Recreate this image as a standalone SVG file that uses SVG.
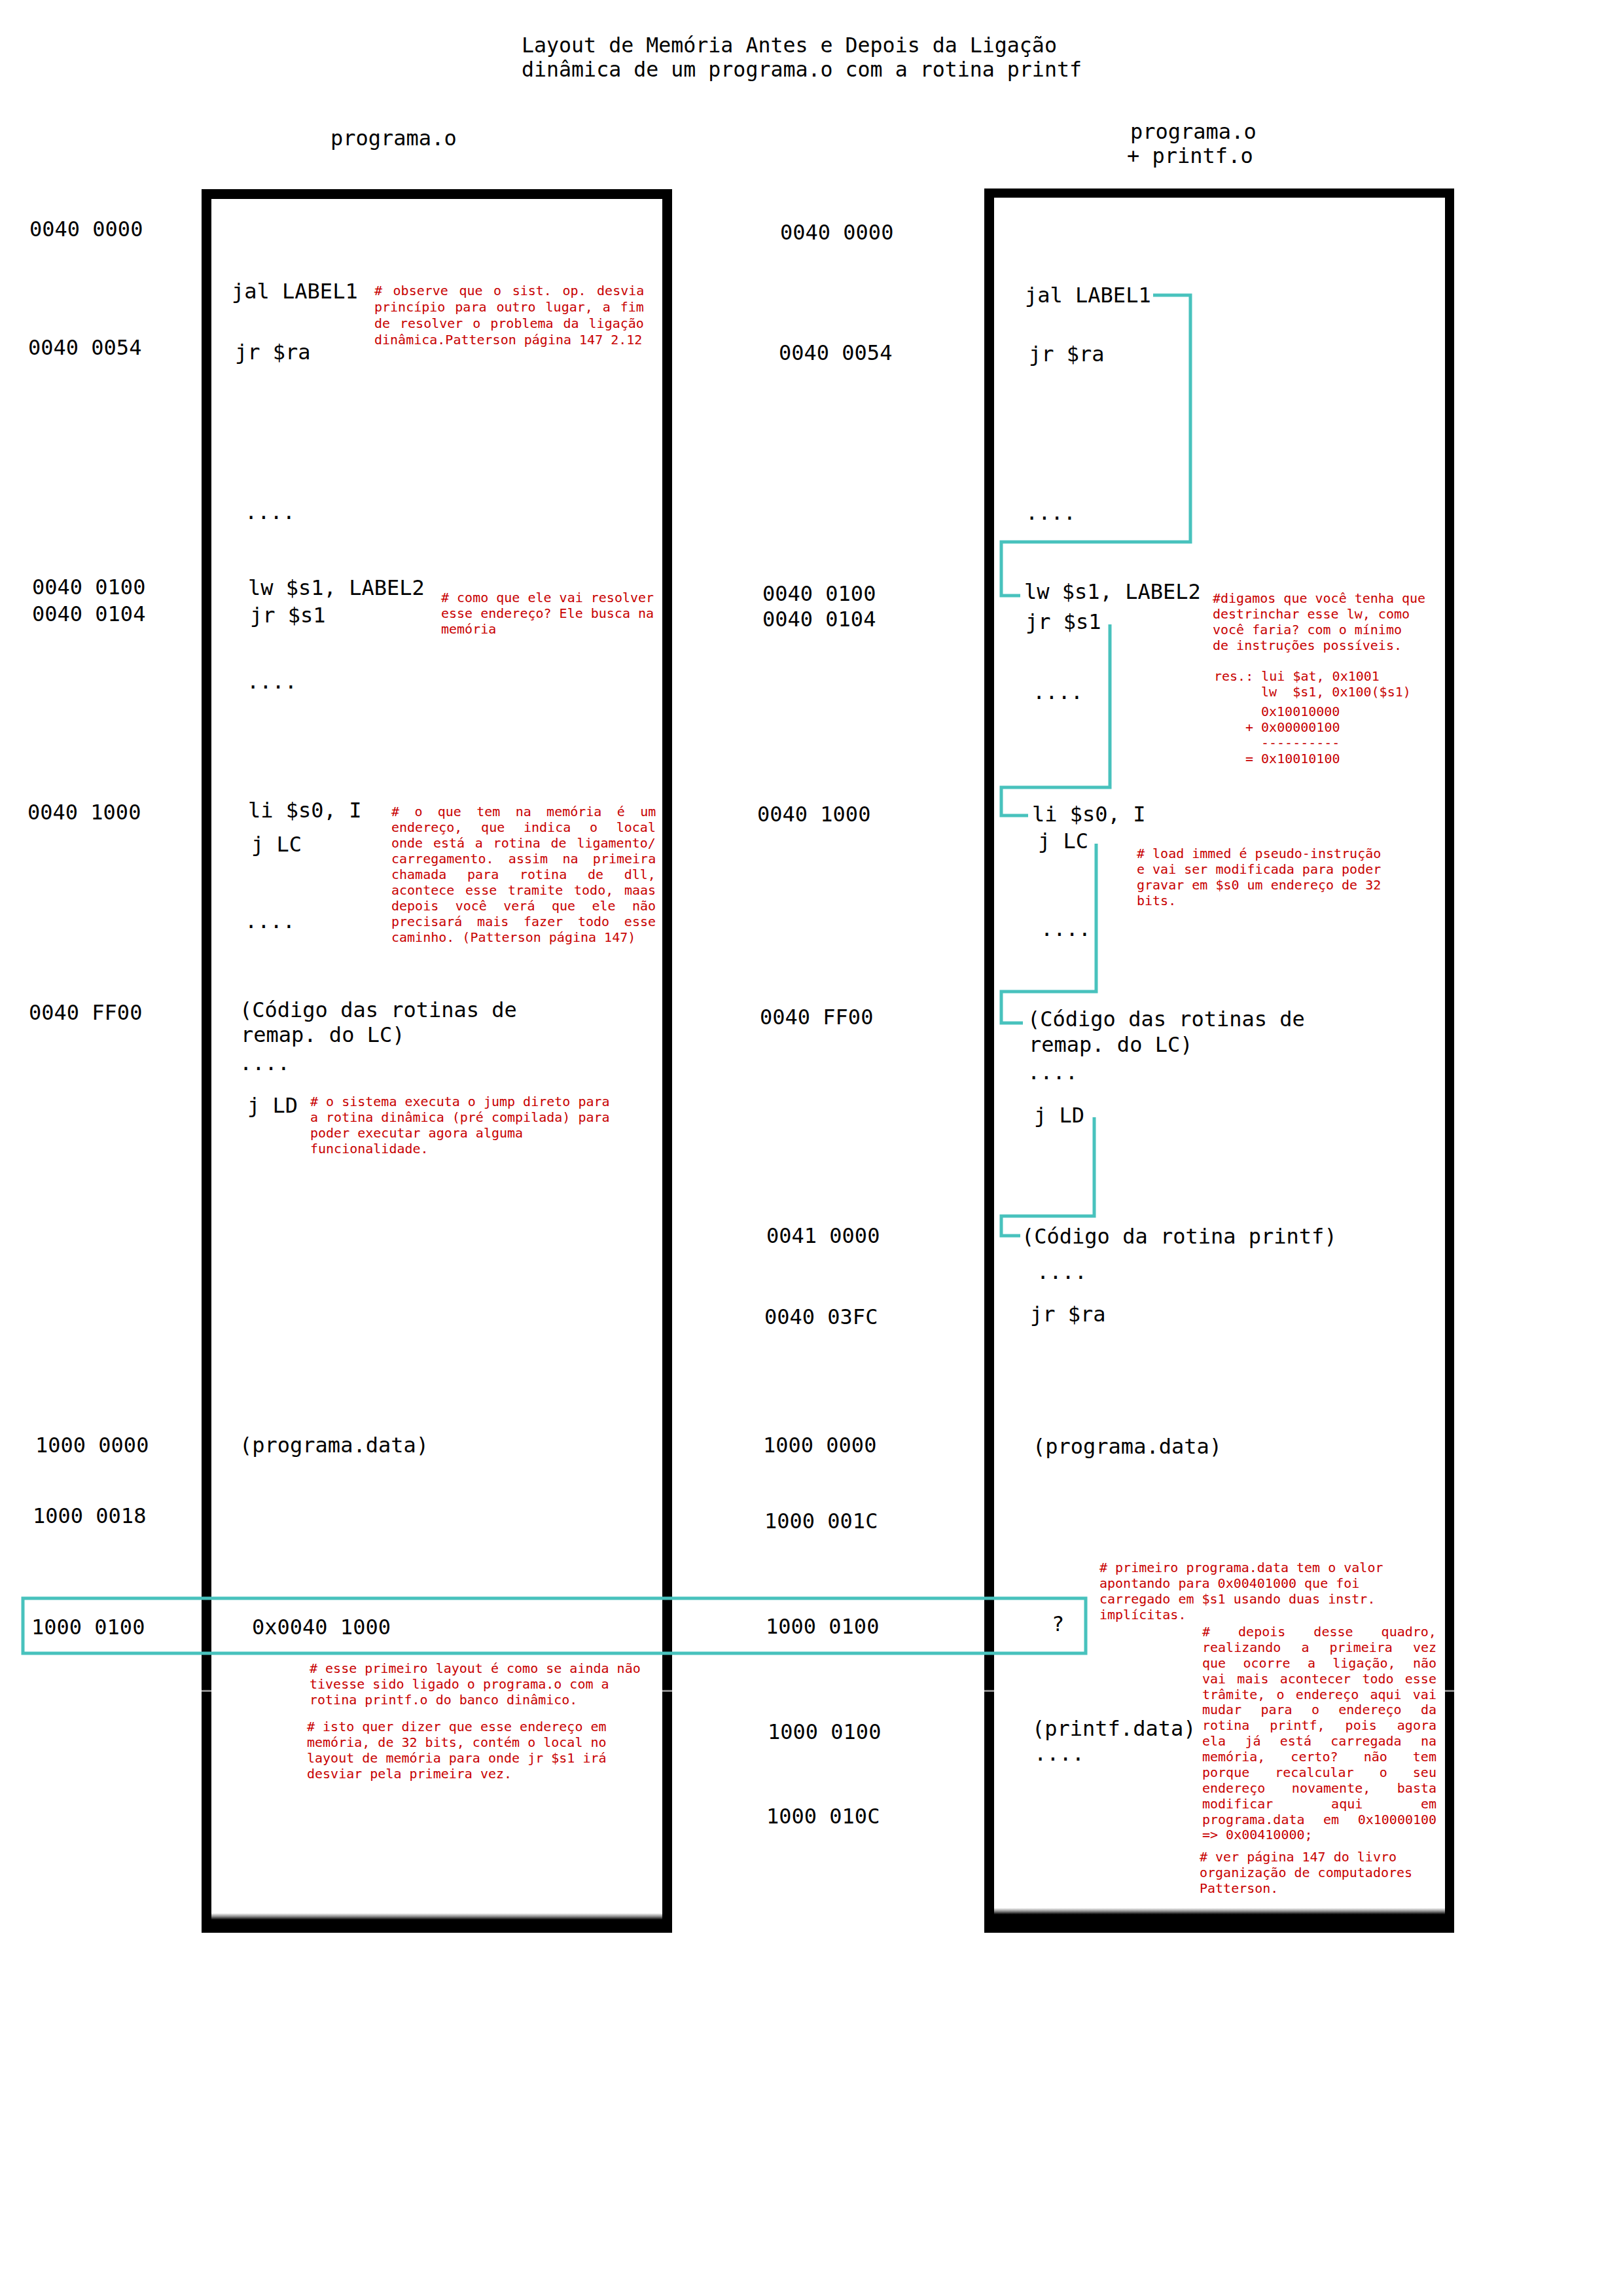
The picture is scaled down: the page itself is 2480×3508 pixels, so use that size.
<svg xmlns="http://www.w3.org/2000/svg" width="2480" height="3508" viewBox="0 0 2480 3508">
<style>
.t{font-family:"DejaVu Sans Mono","Liberation Mono",monospace;font-size:32px;fill:#000}
.h{font-family:"DejaVu Sans Mono","Liberation Mono",monospace;font-size:31.6px;fill:#000}
.r{font-family:"DejaVu Sans Mono","Liberation Mono",monospace;font-size:20px;fill:#c80000}
.con{fill:none;stroke:#48c2bd;stroke-width:5;stroke-linejoin:miter;stroke-linecap:butt}
.mark{fill:#8a8a8a}
</style>
<defs>
<linearGradient id="shade" x1="0" y1="0" x2="0" y2="1">
<stop offset="0" stop-color="#ffffff"/>
<stop offset="0.5" stop-color="#909090"/>
<stop offset="1" stop-color="#000000"/>
</linearGradient>
</defs>
<rect width="2480" height="3508" fill="#ffffff"/>

<g id="title">
<text class="h" x="797" y="80">Layout de Memória Antes e Depois da Ligação</text>
<text class="h" x="797" y="117">dinâmica de um programa.o com a rotina printf</text>
</g>

<g id="left-box">
<rect x="308" y="289" width="719" height="2664" fill="#000"/>
<rect x="323" y="304" width="689" height="2629" fill="#fff"/>
<rect x="323" y="2923" width="689" height="10" fill="url(#shade)"/>
<rect class="mark" x="308" y="2582" width="15" height="3"/>
<rect class="mark" x="1012" y="2582" width="15" height="3"/>
</g>

<g id="right-box">
<rect x="1504" y="288" width="718" height="2665" fill="#000"/>
<rect x="1519" y="302" width="689" height="2623" fill="#fff"/>
<rect x="1519" y="2915" width="689" height="10" fill="url(#shade)"/>
<rect class="mark" x="1504" y="2582" width="15" height="3"/>
<rect class="mark" x="2208" y="2582" width="14" height="3"/>
</g>

<g id="headers">
<text class="t" x="505" y="222">programa.o</text>
<text class="t" x="1727" y="212">programa.o</text>
<text class="t" x="1722" y="249">+ printf.o</text>
</g>

<g id="left-addresses">
<text class="t" x="45" y="361">0040 0000</text>
<text class="t" x="43" y="542">0040 0054</text>
<text class="t" x="49" y="908">0040 0100</text>
<text class="t" x="49" y="949">0040 0104</text>
<text class="t" x="42" y="1252">0040 1000</text>
<text class="t" x="44" y="1558">0040 FF00</text>
<text class="t" x="54" y="2219">1000 0000</text>
<text class="t" x="50" y="2327">1000 0018</text>
<text class="t" x="48" y="2497">1000 0100</text>
</g>

<g id="left-content">
<text class="t" x="354" y="456">jal LABEL1</text>
<text class="t" x="359" y="549">jr $ra</text>
<text class="t" x="374" y="793">....</text>
<text class="t" x="379" y="909">lw $s1, LABEL2</text>
<text class="t" x="382" y="951">jr $s1</text>
<text class="t" x="377" y="1052">....</text>
<text class="t" x="379" y="1249">li $s0, I</text>
<text class="t" x="384" y="1301">j LC</text>
<text class="t" x="374" y="1418">....</text>
<text class="t" x="366" y="1554">(Código das rotinas de</text>
<text class="t" x="368" y="1592">remap. do LC)</text>
<text class="t" x="366" y="1635">....</text>
<text class="t" x="378" y="1700">j LD</text>
<text class="t" x="366" y="2219">(programa.data)</text>
<text class="t" x="385" y="2497">0x0040 1000</text>
</g>

<g id="left-notes">
<text class="r" x="572" y="451" style="word-spacing:4.5px"># observe que o sist. op. desvia</text>
<text class="r" x="572" y="476" style="word-spacing:2.9px">princípio para outro lugar, a fim</text>
<text class="r" x="572" y="501" style="word-spacing:2.9px">de resolver o problema da ligação</text>
<text class="r" x="572" y="526">dinâmica.Patterson página 147 2.12</text>

<text class="r">
<tspan x="674" y="920"># como que ele vai resolver</tspan>
<tspan x="674" y="944">esse endereço? Ele busca na</tspan>
<tspan x="674" y="968">memória</tspan>
</text>

<text class="r" x="598" y="1247" style="word-spacing:11.3px"># o que tem na memória é um</text>
<text class="r" x="598" y="1271" style="word-spacing:16.7px">endereço, que indica o local</text>
<text class="r" x="598" y="1295" style="word-spacing:3.7px">onde está a rotina de ligamento/</text>
<text class="r" x="598" y="1319" style="word-spacing:10.3px">carregamento. assim na primeira</text>
<text class="r" x="598" y="1343" style="word-spacing:19.7px">chamada para rotina de dll,</text>
<text class="r" x="598" y="1367" style="word-spacing:4.7px">acontece esse tramite todo, maas</text>
<text class="r" x="598" y="1391" style="word-spacing:13.4px">depois você verá que ele não</text>
<text class="r" x="598" y="1415" style="word-spacing:10.7px">precisará mais fazer todo esse</text>
<text class="r" x="598" y="1439">caminho. (Patterson página 147)</text>

<text class="r">
<tspan x="474" y="1690"># o sistema executa o jump direto para</tspan>
<tspan x="474" y="1714">a rotina dinâmica (pré compilada) para</tspan>
<tspan x="474" y="1738">poder executar agora alguma</tspan>
<tspan x="474" y="1762">funcionalidade.</tspan>
</text>

<text class="r">
<tspan x="473" y="2556"># esse primeiro layout é como se ainda não</tspan>
<tspan x="473" y="2580">tivesse sido ligado o programa.o com a</tspan>
<tspan x="473" y="2604">rotina printf.o do banco dinâmico.</tspan>
</text>
<text class="r">
<tspan x="469" y="2645"># isto quer dizer que esse endereço em</tspan>
<tspan x="469" y="2669">memória, de 32 bits, contém o local no</tspan>
<tspan x="469" y="2693">layout de memória para onde jr $s1 irá</tspan>
<tspan x="469" y="2717">desviar pela primeira vez.</tspan>
</text>
</g>

<g id="middle-addresses">
<text class="t" x="1192" y="366">0040 0000</text>
<text class="t" x="1190" y="550">0040 0054</text>
<text class="t" x="1165" y="918">0040 0100</text>
<text class="t" x="1165" y="957">0040 0104</text>
<text class="t" x="1157" y="1255">0040 1000</text>
<text class="t" x="1161" y="1565">0040 FF00</text>
<text class="t" x="1171" y="1899">0041 0000</text>
<text class="t" x="1168" y="2023">0040 03FC</text>
<text class="t" x="1166" y="2219">1000 0000</text>
<text class="t" x="1168" y="2335">1000 001C</text>
<text class="t" x="1170" y="2496">1000 0100</text>
<text class="t" x="1173" y="2657">1000 0100</text>
<text class="t" x="1171" y="2786">1000 010C</text>
</g>

<g id="right-content">
<text class="t" x="1566" y="462">jal LABEL1</text>
<text class="t" x="1572" y="552">jr $ra</text>
<text class="t" x="1567" y="794">....</text>
<text class="t" x="1565" y="915">lw $s1, LABEL2</text>
<text class="t" x="1567" y="961">jr $s1</text>
<text class="t" x="1578" y="1068">....</text>
<text class="t" x="1577" y="1255">li $s0, I</text>
<text class="t" x="1586" y="1296">j LC</text>
<text class="t" x="1590" y="1430">....</text>
<text class="t" x="1570" y="1568">(Código das rotinas de</text>
<text class="t" x="1572" y="1607">remap. do LC)</text>
<text class="t" x="1570" y="1649">....</text>
<text class="t" x="1580" y="1715">j LD</text>
<text class="t" x="1561" y="1900">(Código da rotina printf)</text>
<text class="t" x="1584" y="1954">....</text>
<text class="t" x="1574" y="2019">jr $ra</text>
<text class="t" x="1578" y="2221">(programa.data)</text>
<text class="t" x="1607" y="2492">?</text>
<text class="t" x="1577" y="2652">(printf.data)</text>
<text class="t" x="1580" y="2690">....</text>
</g>

<g id="right-notes">
<text class="r">
<tspan x="1853" y="921">#digamos que você tenha que</tspan>
<tspan x="1853" y="945">destrinchar esse lw, como</tspan>
<tspan x="1853" y="969">você faria? com o mínimo</tspan>
<tspan x="1853" y="993">de instruções possíveis.</tspan>
</text>
<text class="r" x="1855" y="1040">res.: lui $at, 0x1001</text>
<text class="r" x="1927" y="1064" xml:space="preserve">lw  $s1, 0x100($s1)</text>
<text class="r" x="1927" y="1094">0x10010000</text>
<text class="r" x="1903" y="1118">+ 0x00000100</text>
<text class="r" x="1927" y="1142">----------</text>
<text class="r" x="1903" y="1166">= 0x10010100</text>

<text class="r">
<tspan x="1737" y="1311"># load immed é pseudo-instrução</tspan>
<tspan x="1737" y="1335">e vai ser modificada para poder</tspan>
<tspan x="1737" y="1359">gravar em $s0 um endereço de 32</tspan>
<tspan x="1737" y="1383">bits.</tspan>
</text>

<text class="r">
<tspan x="1680" y="2402"># primeiro programa.data tem o valor</tspan>
<tspan x="1680" y="2426">apontando para 0x00401000 que foi</tspan>
<tspan x="1680" y="2450">carregado em $s1 usando duas instr.</tspan>
<tspan x="1680" y="2474">implícitas.</tspan>
</text>

<text class="r" x="1837" y="2500" style="word-spacing:31px"># depois desse quadro,</text>
<text class="r" x="1837" y="2524" style="word-spacing:19px">realizando a primeira vez</text>
<text class="r" x="1837" y="2548" style="word-spacing:14.25px">que ocorre a ligação, não</text>
<text class="r" x="1837" y="2572" style="word-spacing:5.2px">vai mais acontecer todo esse</text>
<text class="r" x="1837" y="2596" style="word-spacing:5.2px">trâmite, o endereço aqui vai</text>
<text class="r" x="1837" y="2619" style="word-spacing:17.25px">mudar para o endereço da</text>
<text class="r" x="1837" y="2643" style="word-spacing:19px">rotina printf, pois agora</text>
<text class="r" x="1837" y="2667" style="word-spacing:17.25px">ela já está carregada na</text>
<text class="r" x="1837" y="2691" style="word-spacing:27px">memória, certo? não tem</text>
<text class="r" x="1837" y="2715" style="word-spacing:27px">porque recalcular o seu</text>
<text class="r" x="1837" y="2739" style="word-spacing:28.5px">endereço novamente, basta</text>
<text class="r" x="1837" y="2763" style="word-spacing:76.7px">modificar aqui em</text>
<text class="r" x="1837" y="2787" style="word-spacing:16.5px">programa.data em 0x10000100</text>
<text class="r" x="1837" y="2810">=&gt; 0x00410000;</text>

<text class="r">
<tspan x="1833" y="2844"># ver página 147 do livro</tspan>
<tspan x="1833" y="2868">organização de computadores</tspan>
<tspan x="1833" y="2892">Patterson.</tspan>
</text>
</g>

<g id="connectors">
<path class="con" d="M1762,451 H1819 V828 H1530 V910 H1559"/>
<path class="con" d="M1696,954 V1203 H1530 V1246 H1571"/>
<path class="con" d="M1675,1289 V1515 H1530 V1563 H1563"/>
<path class="con" d="M1672,1707 V1858 H1530 V1888 H1559"/>
<rect class="con" x="35" y="2442" width="1624" height="84"/>
</g>
</svg>
